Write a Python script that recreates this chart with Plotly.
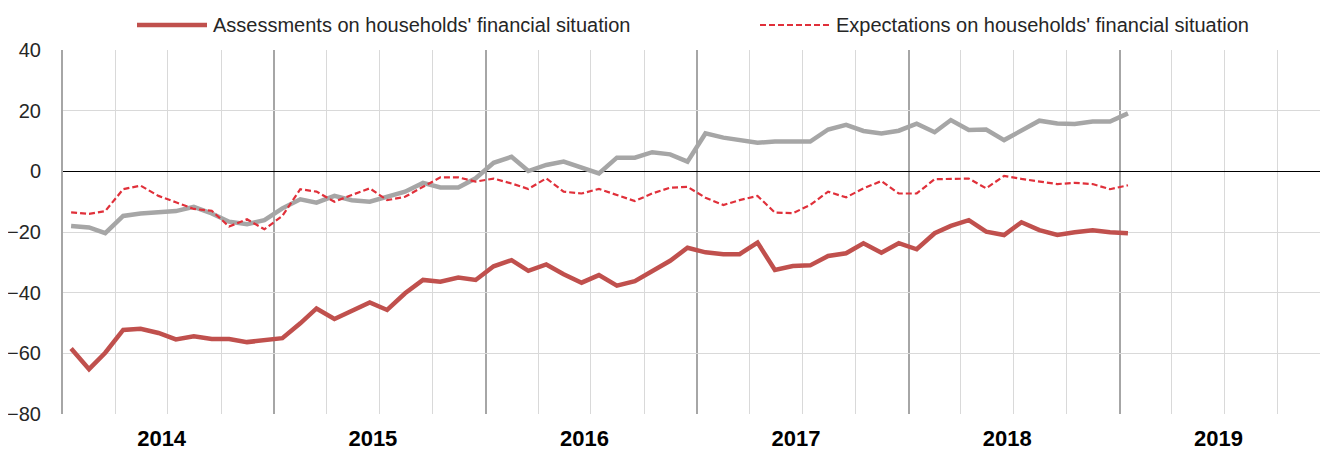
import pandas as pd
import plotly.graph_objects as go

# Monthly observations, Jan 2014 - Jan 2019
months = pd.date_range("2014-01-01", periods=61, freq="MS")
x_mid = months + pd.Timedelta(days=14)

assessments = [-58.4, -65.2, -59.8, -52.3, -51.9, -53.3, -55.4, -54.4, -55.3, -55.3, -56.3, -55.7,
               -55.0, -50.1, -45.2, -48.7, -46.0, -43.2, -45.7, -40.2, -35.8, -36.4, -35.0, -35.8,
               -31.3, -29.3, -32.8, -30.7, -33.9, -36.7, -34.2, -37.7, -36.2, -33.1, -29.5, -25.2,
               -26.7, -27.3, -27.3, -23.5, -32.5, -31.2, -31.0, -27.9, -27.0, -23.7, -26.8, -23.7,
               -25.7, -20.4, -18.0, -16.1, -19.9, -21.0, -16.8, -19.4, -21.0, -20.1, -19.4, -20.1,
               -20.4]

expectations = [-13.5, -14.0, -13.1, -5.9, -4.7, -8.1, -10.2, -12.4, -13.0, -18.2, -15.8, -19.1,
                -14.7, -5.9, -6.7, -10.0, -7.8, -5.6, -9.5, -8.4, -5.1, -2.0, -2.0, -3.4,
                -2.4, -4.0, -5.8, -2.3, -6.7, -7.3, -5.8, -7.8, -9.8, -7.3, -5.4, -5.1,
                -8.7, -11.1, -9.5, -8.1, -13.6, -13.8, -11.1, -6.7, -8.6, -5.6, -3.2, -7.3,
                -7.3, -2.6, -2.5, -2.4, -5.6, -1.5, -2.5, -3.4, -4.2, -3.8, -4.2, -5.9,
                -4.6]

grey_series = [-18.0, -18.5, -20.4, -14.7, -13.9, -13.5, -13.1, -11.7, -13.9, -16.6, -17.4, -16.1,
               -12.2, -9.2, -10.3, -8.1, -9.5, -10.0, -8.4, -6.7, -3.8, -5.3, -5.3, -2.3,
               2.8, 4.8, 0.1, 2.1, 3.2, 1.3, -0.7, 4.5, 4.5, 6.3, 5.6, 3.2,
               12.5, 11.1, 10.3, 9.4, 9.8, 9.8, 9.8, 13.8, 15.3, 13.3, 12.5, 13.4,
               15.7, 12.9, 16.9, 13.6, 13.8, 10.3, 13.4, 16.7, 15.8, 15.6, 16.4, 16.4,
               19.1]

legend_labels = ["Assessments on households' financial situation",
                 "Expectations on households' financial situation"]

RED = "#C0504D"
RED_DASH = "#E0303A"
GREY = "#A6A6A6"
FONT = "Liberation Sans, Arial, sans-serif"

fig = go.Figure()
fig.add_trace(go.Scatter(x=x_mid, y=grey_series, mode="lines", showlegend=False,
                         line=dict(color=GREY, width=4.5)))
fig.add_trace(go.Scatter(x=x_mid, y=expectations, mode="lines", name=legend_labels[1],
                         showlegend=False, line=dict(color=RED_DASH, width=2.2, dash="6px,3px")))
fig.add_trace(go.Scatter(x=x_mid, y=assessments, mode="lines", name=legend_labels[0],
                         showlegend=False, line=dict(color=RED, width=4.5)))

# Custom legend (long line samples as in the original); positions in screen px
L, R, T, B = 63.0, 1323.0, 50.0, 414.0
def px(xp):
    return (xp - L) / (R - L)
def py(yp):
    return (B - yp) / (B - T)

legend_items = [
    dict(x0=137, x1=207, tx=211, color=RED, width=4.5, dash="solid", text=legend_labels[0]),
    dict(x0=760, x1=830, tx=834, color=RED_DASH, width=2.2, dash="6px,3px", text=legend_labels[1]),
]
for it in legend_items:
    fig.add_shape(type="line", xref="paper", yref="paper",
                  x0=px(it["x0"]), x1=px(it["x1"]), y0=py(25), y1=py(25),
                  line=dict(color=it["color"], width=it["width"], dash=it["dash"]))
    fig.add_annotation(xref="paper", yref="paper", x=px(it["tx"]), y=py(25),
                       xanchor="left", yanchor="middle", showarrow=False,
                       text=it["text"], font=dict(family=FONT, size=20, color="#262626"))

# page body has an 8px margin, so the figure is sized/placed to compensate
fig.update_layout(
    width=1320, height=445,
    margin=dict(l=55, r=5, t=42, b=39),
    plot_bgcolor="white", paper_bgcolor="white",
    font=dict(family=FONT, size=20, color="#262626"),
)
fig.update_xaxes(
    type="date", automargin=False,
    range=["2014-01-01", "2019-12-18"],
    tick0="2014-01-01", dtick="M12",
    tickformat="%Y", ticklabelmode="period", ticklabelshift=-7, ticklabelstandoff=9,
    tickfont=dict(family=FONT, size=22, color="#000000", weight="bold"),
    showgrid=True, gridcolor="#A6A6A6", gridwidth=2,
    minor=dict(dtick="M3", showgrid=True, gridcolor="#D9D9D9", gridwidth=1),
    ticks="", showline=False, zeroline=False,
)
fig.update_yaxes(
    automargin=False,
    range=[-80, 40], dtick=20,
    showgrid=True, gridcolor="#D9D9D9", gridwidth=1,
    zeroline=True, zerolinecolor="#000000", zerolinewidth=1,
    showline=True, linecolor="#A6A6A6", linewidth=2,
    ticks="", ticklabelstandoff=16,
    tickfont=dict(family=FONT, size=20, color="#262626"),
)

fig.write_html("out.html")
